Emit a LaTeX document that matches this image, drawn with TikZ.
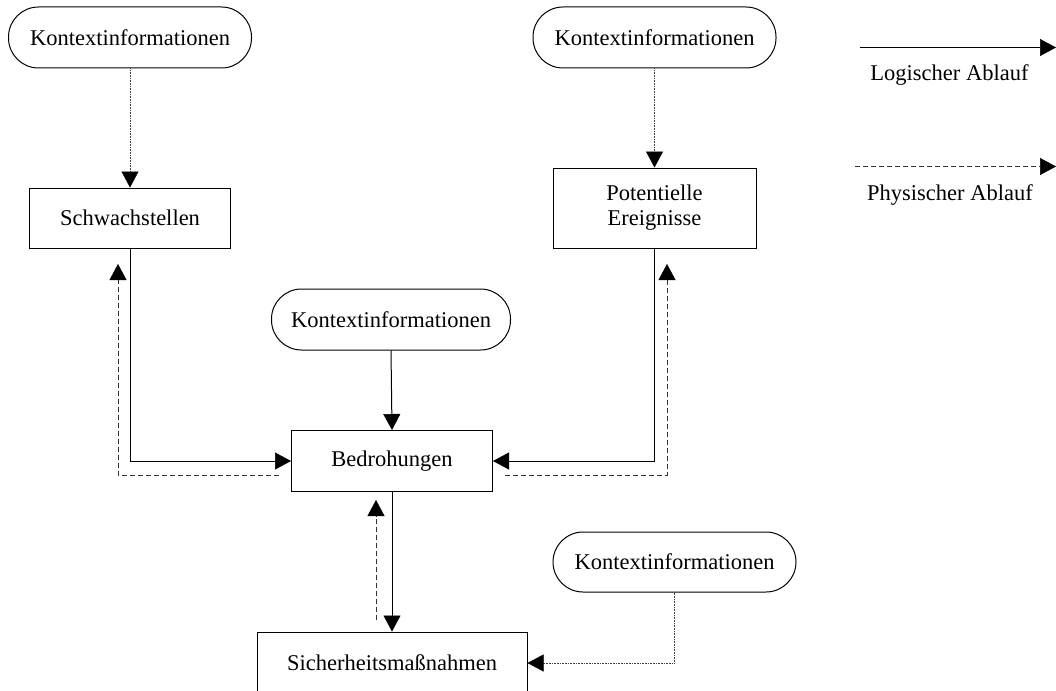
\documentclass[tikz,border=0pt]{standalone}
\usepackage{fontspec}
\setmainfont{Liberation Serif}
\usetikzlibrary{arrows.meta}
\begin{document}
\begin{tikzpicture}[x=1pt,y=-1pt,line width=1pt,
  every node/.style={font=\fontsize{22.5}{26}\selectfont},
  ctx/.style={draw, rectangle, rounded corners=30pt, minimum width=243pt, minimum height=61pt, inner sep=0pt},
  box/.style={draw, rectangle, inner sep=0pt, align=center},
  tip/.style={-{Triangle[length=16pt,width=17pt,black,line width=0.5pt]}},
  logical/.style={tip, draw=black},
  physical/.style={tip, draw=black!80, dash pattern=on 5pt off 3pt},
  context/.style={tip, draw=black!75, line width=0.9pt, dash pattern=on 1pt off 0.6pt},
  legtext/.style={inner sep=0pt}]
\clip (0,0) rectangle (1056,690);
\fill[white] (0,0) rectangle (1056,690);
% context nodes
\node[ctx] (k1) at (130,37.5) {Kontextinformationen};
\node[ctx] (k2) at (654.5,37.5) {Kontextinformationen};
\node[ctx, minimum width=239pt] (k3) at (391,319.5) {Kontextinformationen};
\node[ctx, minimum height=60pt] (k4) at (674.5,562) {Kontextinformationen};
% boxes
\node[box, minimum width=201pt, minimum height=60pt] (s) at (130,218) {Schwachstellen};
\node[box, minimum width=203pt, minimum height=80pt] (p) at (654.5,208) {Potentielle\\[-1pt]Ereignisse};
\node[box, minimum width=201pt, minimum height=61pt] (b) at (392,461) {Bedrohungen};
\node[box, minimum width=270pt, minimum height=62pt] (m) at (392,663) {Sicherheitsmaßnahmen};
% context connectors
\draw[context] (k1.south) -- (s.north);
\draw[context] (k2.south) -- (p.north);
\draw[logical] (k3.south) -- (b.north);
\draw[context] (k4.south) |- (m.east);
% logical flow
\draw[logical] (s.south) |- (b.west);
\draw[logical] (p.south) |- (b.east);
\draw[logical] (b.south) -- (m.north);
% physical flow
\coordinate (dl0) at (279,475);
\coordinate (dl1) at (118,264);
\coordinate (dr0) at (505,475);
\coordinate (dr1) at (667,264);
\coordinate (dm0) at (376,620);
\coordinate (dm1) at (376,500);
\draw[physical] (dl0) -| (dl1);
\draw[physical] (dr0) -| (dr1);
\draw[physical] (dm0) -- (dm1);
% legend
\coordinate (la0) at (860,47.5);
\coordinate (la1) at (1056,47.5);
\coordinate (lb0) at (855,166.5);
\coordinate (lb1) at (1056,166.5);
\draw[logical] (la0) -- (la1);
\draw[physical] (lb0) -- (lb1);
\node[legtext] (lt1) at (949.5,75) {Logischer Ablauf};
\node[legtext] (lt2) at (950,195) {Physischer Ablauf};
\end{tikzpicture}
\end{document}
